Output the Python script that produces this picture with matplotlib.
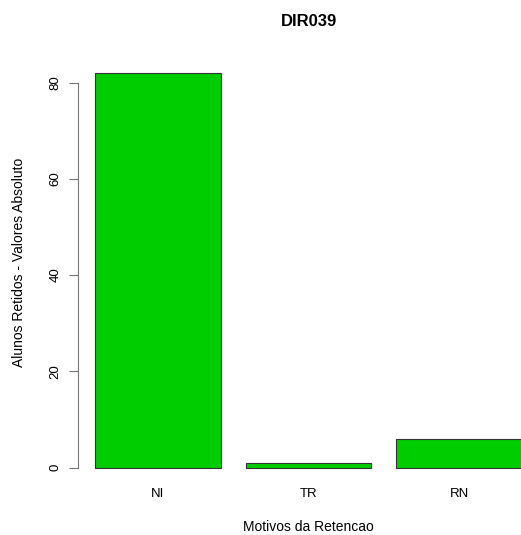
import matplotlib.pyplot as plt
import numpy as np

plt.rcParams['font.family'] = ['Liberation Sans', 'DejaVu Sans']

categorias = ['NI', 'TR', 'RN']
valores = [82, 1, 6]
yticks = [0, 20, 40, 60, 80]

fig = plt.figure(figsize=(5.21, 5.35), dpi=100)
ax = fig.add_axes([78/521, 0.0966, 443/521, 0.7966])

# posicoes como no barplot do R (width=1, space=0.2)
x = 0.7 + 1.2*np.arange(len(valores))
ax.bar(x, valores, width=1.0, color='#00CD00', edgecolor='#333333', linewidth=0.8)

ax.set_xlim(0.064, 0.064 + 443/125.5)
ax.set_ylim(-3.28, 85.28)

for s in ['top', 'right', 'bottom']:
    ax.spines[s].set_visible(False)
ax.spines['left'].set_bounds(0, 80)
ax.spines['left'].set_color('#777777')

ax.set_yticks(yticks)
ax.set_yticklabels([str(v) for v in yticks], rotation=90, va='center', fontsize=9.5)
ax.tick_params(axis='y', length=6.5, color='#777777', pad=5.5)
ax.set_xticks(x)
ax.set_xticklabels(categorias, fontsize=9.5)
ax.tick_params(axis='x', length=0, pad=3.5)

fig.text(19/521, 1 - 262/535, 'Alunos Retidos - Valores Absoluto', rotation=90,
         ha='center', va='center', fontsize=10)
fig.text(308/521, 1 - 527/535, 'Motivos da Retencao', ha='center', va='center',
         fontsize=10)
fig.text(309/521, 1 - 22/535, 'DIR039', ha='center', va='center',
         fontsize=12, fontweight='bold')

plt.savefig('out.png')
